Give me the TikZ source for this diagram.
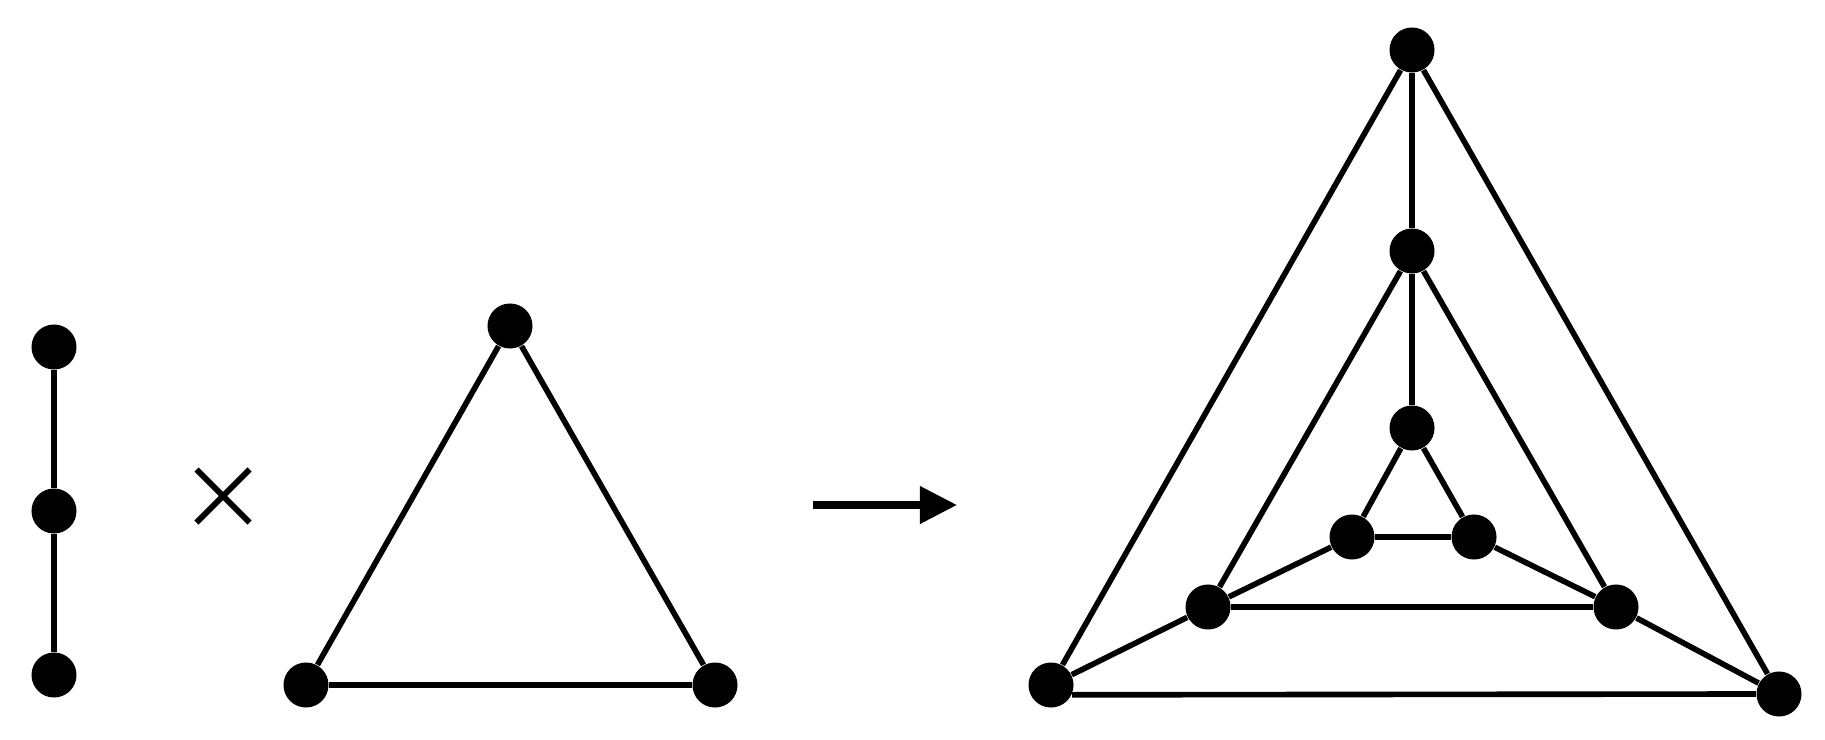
\documentclass[tikz,border=0pt]{standalone}
\usepackage{tikz}
\usetikzlibrary{arrows.meta, shapes.misc}

\tikzset{
    vtx/.style={circle, fill=black, inner sep=0pt, minimum size=0.45cm},
    lnk/.style={line width=1.6pt},
}

\begin{document}
\begin{tikzpicture}[x=0.01cm, y=-0.01cm]
    \useasboundingbox (0, 0) rectangle (1825, 740);

    % path P3
    \node[vtx] at (54, 347) (p1) {};
    \node[vtx] at (54, 511) (p2) {};
    \node[vtx] at (54, 675) (p3) {};

    \draw[lnk] (p1) edge (p2);
    \draw[lnk] (p2) edge (p3);

    \node[cross out, draw, line width=1.7pt, inner sep=0pt, minimum size=0.47cm] at (223, 496) (times) {};

    % triangle K3
    \node[vtx] at (510, 326) (k1) {};
    \node[vtx] at (306, 685) (k2) {};
    \node[vtx] at (715, 685) (k3) {};

    \draw[lnk] (k1) edge (k2);
    \draw[lnk] (k1) edge (k3);
    \draw[lnk] (k2) edge (k3);

    \coordinate (from) at (813, 505);
    \coordinate (to) at (957, 505);
    \draw[line width=2pt, -{Triangle[length=0.37cm, width=0.36cm]}] (from) -- (to);

    % product
    \node[vtx] at (1412, 50) (top) {};
    \node[vtx] at (1051, 685) (outl) {};
    \node[vtx] at (1779, 694) (outr) {};
    \node[vtx] at (1412, 251) (mid) {};
    \node[vtx] at (1208, 607) (midl) {};
    \node[vtx] at (1616, 607) (midr) {};
    \node[vtx] at (1412, 428) (inn) {};
    \node[vtx] at (1352, 537) (innl) {};
    \node[vtx] at (1474, 537) (innr) {};

    \draw[lnk] (top) edge (outl);
    \draw[lnk] (top) edge (outr);
    \draw[lnk] (outl.-25) -- (outr.west);
    \draw[lnk] (mid) edge (midl);
    \draw[lnk] (mid) edge (midr);
    \draw[lnk] (midl) edge (midr);
    \draw[lnk] (inn) edge (innl);
    \draw[lnk] (inn) edge (innr);
    \draw[lnk] (innl) edge (innr);

    \draw[lnk] (top) edge (mid);
    \draw[lnk] (mid) edge (inn);
    \draw[lnk] (outl) edge (midl);
    \draw[lnk] (midl) edge (innl);
    \draw[lnk] (outr) edge (midr);
    \draw[lnk] (midr) edge (innr);
\end{tikzpicture}
\end{document}
